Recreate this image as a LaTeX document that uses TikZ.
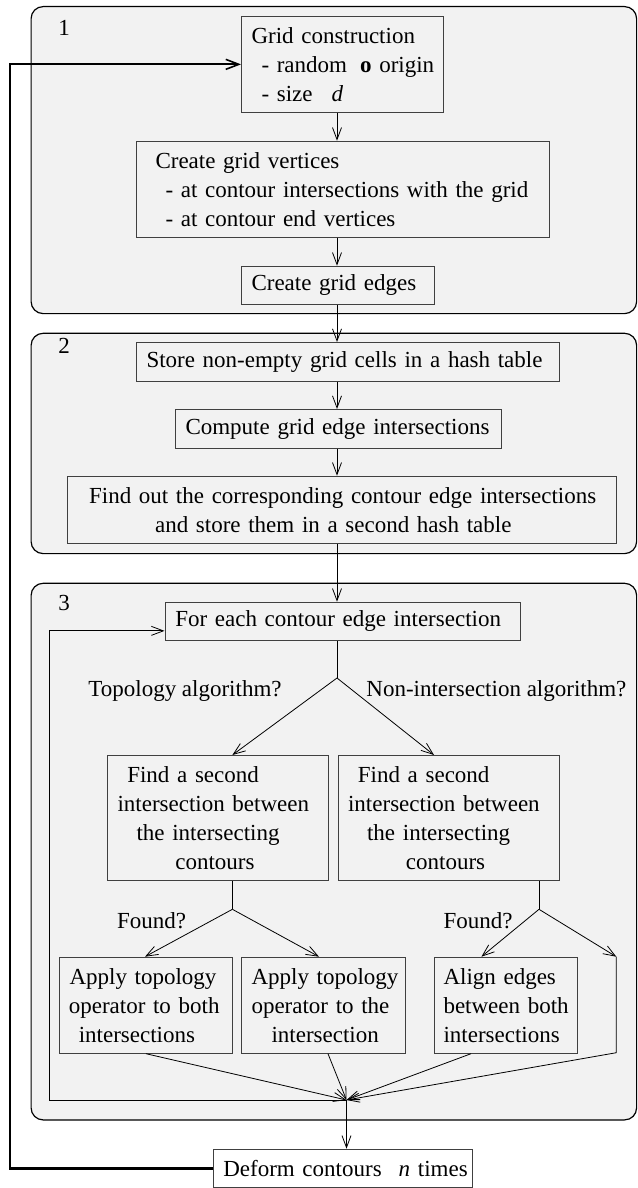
\documentclass[tikz,border=0pt]{standalone}
\usepackage{fontspec}
\setmainfont{Liberation Serif}
\usetikzlibrary{arrows.meta,calc}
\definecolor{panelgray}{gray}{0.95}
\definecolor{boxline}{gray}{0.25}
\newcommand{\Lne}[1]{\mbox{#1}}
\begin{document}
\begin{tikzpicture}[x=1pt,y=-1pt,
  font=\fontsize{23}{29}\selectfont,
  panelbox/.style={draw=black, line width=1.2pt, fill=panelgray, rounded corners=12pt, anchor=north west, inner sep=0pt},
  box/.style={draw=boxline, line width=1pt, fill=panelgray, anchor=north west, align=left, inner ysep=0pt},
  arr/.style={line width=0.8pt, -{Straight Barb[length=12pt,width=9pt,line width=0.8pt]}},
  plain/.style={line width=0.8pt},
  fbk/.style={line width=2.2pt, -{Straight Barb[length=13pt,width=10pt,line width=1.6pt]}},
  lbl/.style={inner sep=0pt}
]
\useasboundingbox (0,0) rectangle (637,1188);

% panels
\node[panelbox, minimum width=605.5pt, minimum height=307pt] (p1) at (30.5,6) {};
\node[panelbox, minimum width=605.5pt, minimum height=220.3pt] (p2) at (30.5,332.7) {};
\node[panelbox, minimum width=605.5pt, minimum height=536.6pt] (p3) at (30.5,582.7) {};
\node[lbl] (n1) at (64,28) {1};
\node[lbl] (n2) at (64,346) {2};
\node[lbl] (n3) at (64,603) {3};

% axis coordinate
\coordinate (ax) at (337,0);
\coordinate (fb) at (10,0);

% panel 1
\node[box, text width=182pt, inner xsep=10pt, minimum height=95.7pt] (g1) at (241,16)
  {\Lne{Grid construction}\\\Lne{\hspace*{10pt}- random\hspace{13pt}\textbf{o} origin}\\\Lne{\hspace*{10pt}- size\hspace{19pt}\textit{d}}};
\node[box, text width=374.5pt, inner xsep=19pt, minimum height=96pt] (g2) at (136,140.7)
  {\Lne{Create grid vertices}\\\Lne{\hspace*{10pt}- at contour intersections with the grid}\\\Lne{\hspace*{10pt}- at contour end vertices}};
\node[box, text width=172.5pt, inner xsep=10pt, minimum height=38.3pt] (g3) at (241,265.7)
  {\Lne{Create grid edges}};

% panel 2
\node[box, text width=403pt, inner xsep=10pt, minimum height=38.7pt] (s) at (136,342)
  {\Lne{Store non-empty grid cells in a hash table}};
\node[box, text width=305.5pt, inner xsep=10pt, minimum height=38.7pt] (c) at (175,409)
  {\Lne{Compute grid edge intersections}};
\node[box, text width=505.8pt, inner xsep=21.6pt, minimum height=67.3pt] (f) at (67,475.7)
  {\Lne{Find out the corresponding contour edge intersections}\\\Lne{\hspace*{66pt}and store them in a second hash table}};

% panel 3
\node[box, text width=334.9pt, inner xsep=10.3pt, minimum height=38.3pt] (e) at (164.5,601.7)
  {\Lne{For each contour edge intersection}};
\node[box, text width=201pt, inner xsep=10pt, minimum height=125pt] (fl) at (107,755)
  {\Lne{\hspace*{9.8pt}Find a second}\\\Lne{intersection between}\\\Lne{\hspace*{19pt}the intersecting}\\\Lne{\hspace*{57.8pt}contours}};
\node[box, text width=201pt, inner xsep=10pt, minimum height=125pt] (fr) at (337.6,755)
  {\Lne{\hspace*{9.8pt}Find a second}\\\Lne{intersection between}\\\Lne{\hspace*{19pt}the intersecting}\\\Lne{\hspace*{57.8pt}contours}};
\node[box, text width=154.4pt, inner xsep=9.3pt, minimum height=96pt] (a1) at (59,956.7)
  {\Lne{\hspace*{0.7pt}Apply topology}\\\Lne{operator to both}\\\Lne{\hspace*{10pt}intersections}};
\node[box, text width=143.9pt, inner xsep=9.7pt, minimum height=96pt] (a2) at (241.3,956.7)
  {\Lne{Apply topology}\\\Lne{operator to the}\\\Lne{\hspace*{20pt}intersection}};
\node[box, text width=124.8pt, inner xsep=9.5pt, minimum height=96pt] (a3) at (433.5,956.7)
  {\Lne{Align edges}\\\Lne{between both}\\\Lne{intersections}};

% final box
\node[box, fill=white, text width=238.9pt, inner xsep=10.3pt, minimum height=38.6pt] (d) at (212.5,1148.7)
  {\Lne{Deform contours\hspace{17pt}\textit{n} times}};

% labels
\node[lbl] (tq) at (185,690.7) {Topology algorithm?};
\node[lbl] (nq) at (496.4,690.7) {Non-intersection algorithm?};
\node[lbl] (fq1) at (151.5,921) {Found?};
\node[lbl] (fq2) at (478,921) {Found?};

% coordinates
\coordinate (b0) at (337,678);
\coordinate (bl) at (232.4,909.3);
\coordinate (br) at (539,909.3);
\coordinate (rt) at (616.3,956.7);
\coordinate (rb) at (616.3,1052.7);
\coordinate (m) at (346.5,1100);
\coordinate (lp) at (49.6,1100);
\coordinate (ein) at ($(e.west)+(0,9.5)$);
\coordinate (lpt) at (lp |- ein);

% vertical flow
\draw[arr] (g1.south -| ax) -- (g2.north -| ax);
\draw[arr] (g2.south -| ax) -- (g3.north -| ax);
\draw[arr] (g3.south -| ax) -- (s.north -| ax);
\draw[arr] (s.south -| ax) -- (c.north -| ax);
\draw[arr] (c.south -| ax) -- (f.north -| ax);
\draw[arr] (f.south -| ax) -- (e.north -| ax);

% branch 1
\draw[plain] (e.south -| b0) -- (b0);
\draw[arr] (b0) -- ($(fl.north west)+(125.4,0)$);
\draw[arr] (b0) -- ($(fr.north west)+(96.4,0)$);

% branch 2 left
\draw[plain] ($(fl.south west)+(125.4,0)$) -- (bl);
\draw[arr] (bl) -- ($(a1.north west)+(86,0)$);
\draw[arr] (bl) -- ($(a2.north west)+(77.7,0)$);

% branch 2 right
\draw[plain] ($(fr.south west)+(201.4,0)$) -- (br);
\draw[arr] (br) -- ($(a3.north west)+(47.9,0)$);
\draw[arr] (br) -- (rt);

% merge
\draw[arr] ($(a1.south west)+(87,0)$) -- (m);
\draw[arr] ($(a2.south west)+(86.7,0)$) -- (m);
\draw[arr] ($(a3.south west)+(37.5,0)$) -- (m);
\draw[arr] (rt) -- (rb) -- (m);

% inner loop
\draw[arr] (m) -- (lp) -- (lpt) -- (ein);

% to deform
\draw[arr] (m) -- (d.north -| m);

% feedback
\draw[fbk] (d.west) -- (d.west -| fb) -- (g1.west -| fb) -- (g1.west);
\end{tikzpicture}
\end{document}
